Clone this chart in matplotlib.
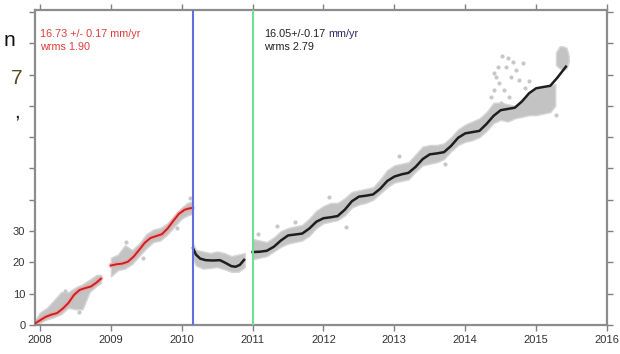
import matplotlib
matplotlib.use("Agg")
import matplotlib.pyplot as plt

plt.rcParams['font.family'] = ['Liberation Sans', 'DejaVu Sans']

# ---------------- data ----------------
# fitted model lines (year, mm)
red1_x = [2007.93, 2008.00, 2008.08, 2008.16, 2008.24, 2008.32, 2008.40, 2008.48,
          2008.56, 2008.64, 2008.72, 2008.80, 2008.86]
red1_y = [0.5, 1.5, 2.6, 3.3, 3.8, 5.2, 7.0, 9.6, 11.2, 11.8, 12.3, 13.6, 14.8]

red2_x = [2009.00, 2009.08, 2009.16, 2009.24, 2009.32, 2009.40, 2009.48, 2009.56,
          2009.64, 2009.72, 2009.80, 2009.88, 2009.96, 2010.04, 2010.10, 2010.15]
red2_y = [19.0, 19.4, 19.6, 20.2, 21.8, 24.0, 26.3, 27.8, 28.4, 29.0, 30.8, 33.2,
          35.5, 36.8, 37.2, 37.4]

blk1_x = [2010.16, 2010.20, 2010.26, 2010.34, 2010.44, 2010.54, 2010.62, 2010.70,
          2010.76, 2010.82, 2010.88]
blk1_y = [24.5, 22.5, 21.2, 20.7, 20.6, 20.7, 19.8, 18.8, 18.6, 19.2, 20.8]

blk2_x = [2011.00, 2011.10, 2011.20, 2011.30, 2011.40, 2011.50, 2011.60, 2011.70,
          2011.80, 2011.90, 2012.00, 2012.10, 2012.20, 2012.30, 2012.40, 2012.50,
          2012.60, 2012.70, 2012.80, 2012.90, 2013.00, 2013.10, 2013.20, 2013.30,
          2013.40, 2013.50, 2013.60, 2013.70, 2013.80, 2013.90, 2014.00, 2014.10,
          2014.20, 2014.30, 2014.40, 2014.50, 2014.60, 2014.70, 2014.80, 2014.90,
          2015.00, 2015.10, 2015.20, 2015.30, 2015.42]
blk2_y = [23.3, 23.4, 23.7, 25.0, 27.0, 28.6, 28.9, 29.2, 30.8, 33.0,
          34.1, 34.4, 34.8, 36.8, 39.5, 41.0, 41.3, 41.7, 43.5, 46.0,
          47.4, 48.1, 48.6, 50.5, 53.0, 54.5, 54.8, 55.2, 57.2, 59.8,
          61.2, 61.6, 62.0, 64.2, 66.8, 68.6, 69.0, 69.4, 71.4, 74.0,
          75.6, 76.0, 76.4, 79.0, 82.5]

# spread of the daily GPS positions (grey cloud): lower / upper envelopes
band1_x = [2007.93, 2008.00, 2008.10, 2008.20, 2008.30, 2008.40, 2008.50, 2008.60,
           2008.70, 2008.80, 2008.86]
band1_lo = [0.0, 0.8, 1.8, 2.5, 3.5, 5.5, 5.0, 5.0, 10.5, 12.5, 13.5]
band1_hi = [1.5, 4.0, 5.5, 8.0, 10.5, 10.5, 12.0, 13.0, 14.5, 16.0, 16.0]

band2_x = [2009.00, 2009.10, 2009.20, 2009.30, 2009.40, 2009.50, 2009.60, 2009.70,
           2009.80, 2009.90, 2010.00, 2010.08, 2010.15]
band2_lo = [15.5, 17.5, 18.0, 19.5, 22.0, 24.5, 26.5, 27.0, 29.0, 31.5, 34.0, 35.0, 35.5]
band2_hi = [21.5, 22.5, 25.5, 24.0, 26.0, 29.0, 30.5, 31.0, 32.5, 35.0, 37.5, 39.0, 39.5]

band3_x = [2010.16, 2010.20, 2010.30, 2010.40, 2010.50, 2010.60, 2010.70, 2010.80, 2010.89]
band3_lo = [21.0, 19.0, 18.0, 18.2, 18.5, 17.8, 17.0, 17.0, 18.5]
band3_hi = [26.0, 24.0, 23.5, 23.0, 23.5, 23.0, 22.0, 22.5, 23.0]

band4_x = [2011.00, 2011.10, 2011.20, 2011.30, 2011.40, 2011.50, 2011.60, 2011.70,
           2011.80, 2011.90, 2012.00, 2012.10, 2012.20, 2012.30, 2012.40, 2012.50,
           2012.60, 2012.70, 2012.80, 2012.90, 2013.00, 2013.10, 2013.20, 2013.30,
           2013.40, 2013.50, 2013.60, 2013.70, 2013.80, 2013.90, 2014.00, 2014.10,
           2014.20, 2014.30, 2014.40, 2014.50, 2014.60, 2014.70, 2014.80, 2014.90,
           2015.00, 2015.10, 2015.20, 2015.27]
band4_lo = [21.0, 21.5, 22.0, 23.5, 25.0, 26.0, 26.5, 27.0, 28.5, 31.0,
            32.5, 33.0, 33.5, 35.0, 37.5, 38.5, 39.0, 40.0, 42.0, 44.0,
            45.5, 46.0, 46.5, 49.0, 51.0, 51.5, 52.0, 53.0, 55.5, 57.5,
            58.5, 59.0, 60.0, 62.0, 64.5, 65.5, 65.0, 66.0, 66.5, 67.0,
            67.0, 67.5, 68.0, 70.0]
band4_hi = [27.5, 27.0, 26.5, 28.0, 30.0, 31.0, 31.5, 32.0, 34.0, 36.5,
            38.0, 39.0, 39.0, 40.5, 42.5, 43.0, 43.5, 44.0, 46.5, 49.5,
            51.0, 51.5, 52.0, 54.5, 57.0, 57.5, 57.5, 58.0, 60.0, 62.5,
            64.0, 65.0, 66.0, 68.0, 71.0, 71.0, 70.5, 70.0, 72.0, 74.0,
            75.5, 76.0, 76.5, 77.0]

band5_x = [2015.28, 2015.33, 2015.38, 2015.43, 2015.46]
band5_lo = [83.0, 82.0, 81.5, 82.0, 84.0]
band5_hi = [87.0, 89.0, 89.0, 88.5, 86.0]

# isolated grey points lying outside the dense cloud
out_x = [2008.35, 2008.55, 2009.22, 2009.45, 2009.93, 2010.12,
         2011.07, 2011.35, 2011.60, 2012.08, 2012.32, 2013.07, 2013.72,
         2014.60, 2014.43, 2014.48, 2014.57, 2014.71, 2014.76, 2014.55, 2014.41,
         2014.36, 2014.62, 2014.81, 2014.64, 2014.46, 2014.85, 2014.50, 2014.90,
         2014.68, 2014.52, 2014.40, 2015.28]
out_y = [11.0, 4.0, 26.5, 21.5, 31.0, 40.5,
         29.0, 31.5, 33.0, 41.0, 31.4, 54.0, 51.5,
         85.2, 79.3, 77.2, 82.5, 81.5, 78.3, 75.0, 75.0,
         72.9, 72.9, 83.6, 79.3, 82.5, 75.6, 70.8, 78.0,
         84.0, 86.0, 80.5, 67.1]

x_ticks = [2008, 2009, 2010, 2011, 2012, 2013, 2014, 2015, 2016]
x_labels = ['2008', '2009', '2010', '2011', '2012', '2013', '2014', '2015', '2016']
y_ticks = [0, 10, 20, 30, 40, 50, 60, 70, 80, 90, 100]
y_labels = ['0', '10', '20', '30', '', '', '', '', '', '', '']

event1 = 2010.155   # blue line
event2 = 2011.0     # green line

txt_red = ['16.73 +/- 0.17 mm/yr', 'wrms 1.90']
txt_blk = ['16.05+/-0.17', 'mm/yr', 'wrms 2.79']

# ---------------- figure ----------------
W, H = 620, 354
fig = plt.figure(figsize=(W / 100, H / 100), dpi=100)
ax = fig.add_axes([35 / W, 1 - 325 / H, (607 - 35) / W, (325 - 10) / H])

grey = '#c3c3c3'
for bx, lo, hi in [(band1_x, band1_lo, band1_hi), (band2_x, band2_lo, band2_hi),
                   (band3_x, band3_lo, band3_hi), (band4_x, band4_lo, band4_hi),
                   (band5_x, band5_lo, band5_hi)]:
    ax.fill_between(bx, lo, hi, color=grey, lw=1.0, edgecolor='#d6d6d6', zorder=1)
ax.scatter(out_x, out_y, s=9, marker='o', color='#c8c8c8', lw=0, zorder=1)

# red model with pink halo
for rx, ry in [(red1_x, red1_y), (red2_x, red2_y)]:
    ax.plot(rx, ry, color='#f2a0a0', lw=3.5, alpha=0.7, solid_capstyle='round', zorder=2)
    ax.plot(rx, ry, color='#cc1f1f', lw=1.4, zorder=3)
for kx, ky in [(blk1_x, blk1_y), (blk2_x, blk2_y)]:
    ax.plot(kx, ky, color='#1e1e1e', lw=1.8, zorder=3)

ax.axvline(event1, color='#6070e0', lw=1.5, zorder=4)
ax.axvline(event2, color='#70e090', lw=1.5, zorder=4)

ax.set_xlim(2007.93, 2016.0)
ax.set_ylim(0, 100.6)
ax.set_xticks(x_ticks)
ax.set_xticklabels(x_labels)
ax.set_yticks(y_ticks)
ax.set_yticklabels(y_labels)
ax.tick_params(axis='both', direction='out', length=4, width=1, color='#808080',
               labelsize=8, labelcolor='#333333', pad=3,
               top=True, right=True, labeltop=False, labelright=False)
for sp in ax.spines.values():
    sp.set_color('#8c8c8c')
    sp.set_linewidth(1.6)

# annotations
fs = 7.8
ax.text((40 - 35) / 572, 1 - (34 - 10) / 315, txt_red[0], transform=ax.transAxes,
        color='#e03a3a', fontsize=fs, va='center', ha='left')
ax.text((40 - 35) / 572, 1 - (47 - 10) / 315, txt_red[1], transform=ax.transAxes,
        color='#e03a3a', fontsize=fs, va='center', ha='left')
t1 = ax.text((264 - 35) / 572, 1 - (34 - 10) / 315, txt_blk[0], transform=ax.transAxes,
             color='#222222', fontsize=fs, va='center', ha='left')
ax.annotate(txt_blk[1], xy=(1, 0.5), xycoords=t1, xytext=(2.5, 0),
            textcoords='offset points', color='#2a2a60', fontsize=fs,
            va='center', ha='left')
ax.text((264 - 35) / 572, 1 - (47 - 10) / 315, txt_blk[2], transform=ax.transAxes,
        color='#222222', fontsize=fs, va='center', ha='left')

# cropped slide fragments at the left edge
fig.text(15 / W, 1 - 40 / H, 'n', fontsize=15, ha='right', va='center', color='#111111')
fig.text(22 / W, 1 - 78 / H, '7', fontsize=15, ha='right', va='center', color='#5a4a20')
fig.text(20 / W, 1 - 112 / H, ',', fontsize=15, ha='right', va='center', color='#111111')

fig.savefig('out.png', dpi=100)
